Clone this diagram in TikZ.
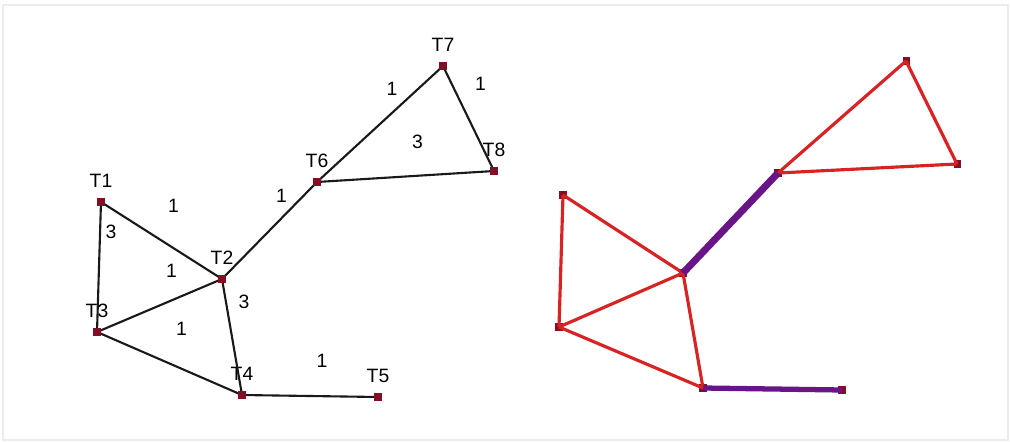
\documentclass[tikz,border=0pt]{standalone}
\usepackage{fontspec}
\setmainfont{Liberation Sans}
\usepackage{tikz}
\usetikzlibrary{positioning,calc}
\definecolor{vertred}{RGB}{130,15,35}
\definecolor{edgered}{RGB}{215,35,35}
\definecolor{treepurple}{RGB}{105,20,135}
\definecolor{framegray}{RGB}{236,236,236}
\tikzset{
  vert/.style={
    rectangle,fill=vertred,minimum size=4pt,inner sep=0pt
  },
  tname/.style={font=\fontsize{11}{12}\selectfont,inner sep=1pt,yshift=5pt},
  wt/.style={midway,shift={(12,-35)},font=\fontsize{11}{12}\selectfont},
  graphline/.style={draw=black!90,line width=1.2pt},
  redline/.style={draw=edgered,line width=1.8pt},
  treeline/.style={draw=treepurple,line width=4pt},
  treeline2/.style={draw=treepurple,line width=3pt}
}

\begin{document}
\begin{tikzpicture}[x=0.02cm,y=-0.02cm]
  \useasboundingbox (0,0) rectangle (1010,442);
  \draw[framegray,line width=1pt] (3,5) rectangle (1008,440);
  % weighted graph
  \node[vert,label={[tname]above:T1}] (t1) at (101,202) {};
  \node[vert,label={[tname]above:T2}] (t2) at (222,279) {};
  \node[vert,label={[tname]above:T3}] (t3) at (97,332) {};
  \node[vert,label={[tname]above:T4}] (t4) at (242,395) {};
  \node[vert,label={[tname]above:T5}] (t5) at (378,397) {};
  \node[vert,label={[tname]above:T6}] (t6) at (317,182) {};
  \node[vert,label={[tname]above:T7}] (t7) at (443,66) {};
  \node[vert,label={[tname]above:T8}] (t8) at (494,171) {};
  \draw[graphline] (t1.center)--(t2.center) node[wt] {1};
  \draw[graphline] (t1.center)--(t3.center) node[wt] {3};
  \draw[graphline] (t3.center)--(t2.center) node[wt] {1};
  \draw[graphline] (t3.center)--(t4.center) node[wt] {1};
  \draw[graphline] (t2.center)--(t4.center) node[wt] {3};
  \draw[graphline] (t2.center)--(t6.center) node[wt] {1};
  \draw[graphline] (t6.center)--(t7.center) node[wt] {1};
  \draw[graphline] (t7.center)--(t8.center) node[wt] {1};
  \draw[graphline] (t6.center)--(t8.center) node[wt] {3};
  \draw[graphline] (t4.center)--(t5.center) node[wt] {1};
  \foreach \n in {t1,t2,t3,t4,t5,t6,t7,t8}
    \node[vert] at (\n) {};
  % spanning tree
  \node[vert] (r1) at (563,195) {};
  \node[vert] (r2) at (683,273) {};
  \node[vert] (r3) at (559,327) {};
  \node[vert] (r4) at (703,388) {};
  \node[vert] (r5) at (842,390) {};
  \node[vert] (r6) at (778,173) {};
  \node[vert] (r7) at (906,61) {};
  \node[vert] (r8) at (957,164) {};
  \draw[redline] (r1.center)--(r2.center);
  \draw[redline] (r1.center)--(r3.center);
  \draw[redline] (r3.center)--(r2.center);
  \draw[redline] (r3.center)--(r4.center);
  \draw[redline] (r2.center)--(r4.center);
  \draw[redline] (r6.center)--(r7.center);
  \draw[redline] (r7.center)--(r8.center);
  \draw[redline] (r6.center)--(r8.center);
  \draw[treeline] (r2.center)--(r6.center);
  \draw[treeline2] (r4.center)--(r5.center);
\end{tikzpicture}
\end{document}
